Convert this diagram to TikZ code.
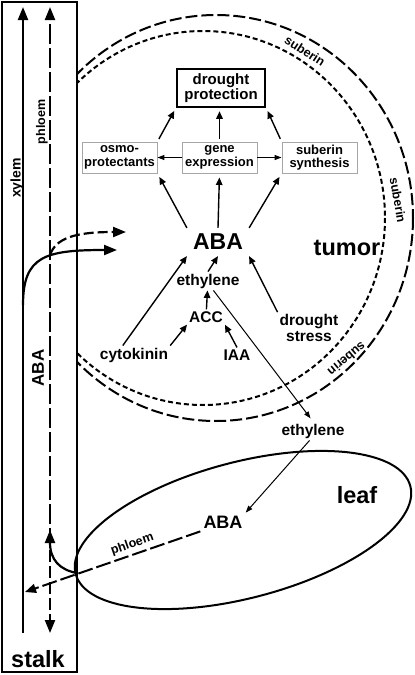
\documentclass[tikz,border=0pt]{standalone}
\usepackage{fontspec}
\setmainfont{Liberation Sans}
\usetikzlibrary{arrows.meta,calc}

\begin{document}
\begin{tikzpicture}[x=1pt,y=-1pt,
    big/.style={line width=2.2pt,-{Triangle[length=13pt,width=10pt]}},
    arr/.style={line width=1.4pt,-{Triangle[length=7.5pt,width=6.5pt]}},
    thinarr/.style={line width=1pt,-{Triangle[length=7pt,width=5pt]}},
    box/.style={draw=gray!70,line width=0.9pt,minimum width=75pt,minimum height=31pt,
        inner sep=1pt,align=center,font=\fontsize{13}{13.5}\selectfont\bfseries},
    lbl/.style={inner sep=2pt,align=center,font=\fontsize{15.5}{16}\selectfont\bfseries},
    title/.style={inner sep=2pt,font=\fontsize{23.5}{24}\selectfont\bfseries},
    suber/.style={inner sep=1pt,font=\fontsize{12.5}{13}\selectfont\bfseries}]
    \useasboundingbox (0,0) rectangle (415,675);

    % Stalk
    \draw[line width=2.5pt] (2,2) rectangle (77,672);
    \node[title] (stalk) at (38,659) {stalk};
    \draw[big] (23,633) -- (23,7);
    \draw[big,dash pattern=on 20pt off 4pt] (50,548) -- (50,7);
    \draw[big,dash pattern=on 12pt off 4pt] (50,550) -- (50,633);
    \node[suber,font=\fontsize{14}{14}\selectfont\bfseries,rotate=90] (xylem) at (17,178) {xylem};
    \node[suber,rotate=90] (phl) at (42,122) {phloem};
    \node[inner sep=1pt,font=\fontsize{17}{17}\selectfont\bfseries,rotate=90] (staba) at (38,368) {ABA};

    % Tumor rings (suberin)
    \begin{scope}
        \clip (77,0) rectangle (415,675);
        \draw[line width=2pt,dash pattern=on 12pt off 4pt] (216,218) ellipse [x radius=197, y radius=203];
        \draw[line width=2pt,dash pattern=on 5pt off 3pt] (203,218) ellipse [x radius=182, y radius=187];
    \end{scope}
    \node[suber,rotate=-33] at (305,51) {suberin};
    \node[suber,rotate=-80] at (398,200) {suberin};
    \node[suber,inner sep=0pt,rotate=-140] at (347,359) {suberin};
    \node[title] (tumor) at (347,248) {tumor};

    % Stalk to tumor
    \draw[big] (23,305) .. controls (23,256) and (45,250) .. (117,250);
    \draw[big,dash pattern=on 10pt off 4pt] (50,255) .. controls (56,238) and (75,232) .. (126,232);

    % Tumor response
    \node[draw,line width=2.5pt,minimum width=88pt,minimum height=38pt,inner sep=1pt,align=center,
        font=\fontsize{15}{15}\selectfont\bfseries] (dp) at (221,88) {drought\\protection};
    \node[box] (osmo) at (119.5,157.5) {osmo-\\protectants};
    \node[box] (gene) at (219.5,157.5) {gene\\expression};
    \node[box] (synth) at (319.5,157.5) {suberin\\synthesis};
    \node[inner sep=6pt,font=\fontsize{23}{23}\selectfont\bfseries] (aba) at (218,242) {ABA};

    \draw[arr,shorten <=3pt,shorten >=3pt] (osmo.north east) -- (dp.south west);
    \draw[arr,shorten <=3pt,shorten >=3pt] (gene.north) -- (gene.north |- dp.south);
    \draw[arr,shorten <=3pt,shorten >=3pt] (synth.north west) -- (dp.south east);
    \draw[thinarr] (gene.west) -- (osmo.east);
    \draw[thinarr] (gene.east) -- (synth.west);
    \draw[arr,shorten >=4pt] (aba.north west) -- (osmo.south east);
    \draw[arr,shorten >=4pt] (aba.north) -- (gene.south);
    \draw[arr,shorten >=4pt] (aba.north east) -- (synth.south west);

    % Signals into ABA
    \node[lbl] (eth) at (208,281) {ethylene};
    \node[lbl] (acc) at (206,317) {ACC};
    \node[lbl] (cyto) at (134,355) {cytokinin};
    \node[lbl] (iaa) at (237,355) {IAA};
    \node[lbl] (stress) at (309,328) {drought\\stress};
    \draw[arr] (cyto.140) -- (aba.south west);
    \draw[arr] (eth.north) -- (aba.south);
    \draw[arr] (stress.north west) -- (aba.south east);
    \draw[arr] (acc) -- (eth);
    \draw[arr] (cyto.north east) -- (acc.south west);
    \draw[arr] (iaa.north) -- (acc.south east);

    % Leaf
    \draw[line width=2pt,rotate around={14.7:(243,530)}] (243,530) ellipse [x radius=173, y radius=68];
    \node[title] (leaf) at (357,495) {leaf};
    \node[lbl] (eth2) at (313,431) {ethylene};
    \node[inner sep=3pt,font=\fontsize{18}{18}\selectfont\bfseries] (leafaba) at (223,522) {ABA};
    \draw[thinarr,shorten >=4pt] (eth.-60) -- (eth2.north);
    \draw[thinarr] (eth2.250) -- (leafaba.north east);

    % Leaf to stalk
    \coordinate (junc) at (77,573);
    \coordinate (ltip) at (25,592);
    \draw[line width=2pt,dash pattern=on 15pt off 4pt,-{Triangle[length=11pt,width=9pt]}]
        (leafaba.south west) -- node[pos=0.37,sloped,above,suber,inner sep=3pt] {phloem} (ltip);
    \draw[big] (junc) .. controls (60,570) and (50,560) .. (50,530);

\end{tikzpicture}
\end{document}
